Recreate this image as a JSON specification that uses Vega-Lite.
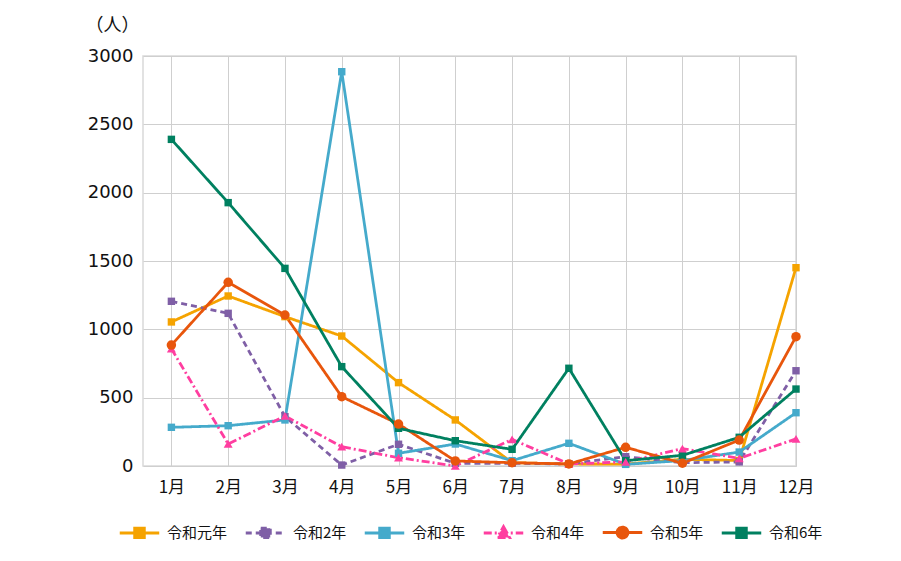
{
  "$schema": "https://vega.github.io/schema/vega-lite/v6.json",
  "width": 653,
  "height": 410,
  "autosize": {"type": "none"},
  "padding": {"left": 143, "top": 56, "right": 105, "bottom": 95},
  "background": "white",
  "config": {
    "font": "Noto Sans CJK JP",
    "view": {"stroke": "#d9d9d9", "strokeWidth": 1.5},
    "axis": {"gridColor": "#cfcfcf", "gridWidth": 1, "domain": false, "ticks": false, "labelColor": "#111"}
  },
  "data": {
    "values": [
      {"year": "令和元年", "month": 1, "value": 1054},
      {"year": "令和元年", "month": 2, "value": 1244},
      {"year": "令和元年", "month": 3, "value": 1093},
      {"year": "令和元年", "month": 4, "value": 951},
      {"year": "令和元年", "month": 5, "value": 610},
      {"year": "令和元年", "month": 6, "value": 337},
      {"year": "令和元年", "month": 7, "value": 24},
      {"year": "令和元年", "month": 8, "value": 15},
      {"year": "令和元年", "month": 9, "value": 14},
      {"year": "令和元年", "month": 10, "value": 49},
      {"year": "令和元年", "month": 11, "value": 40},
      {"year": "令和元年", "month": 12, "value": 1451},
      {"year": "令和2年", "month": 1, "value": 1205},
      {"year": "令和2年", "month": 2, "value": 1117},
      {"year": "令和2年", "month": 3, "value": 361},
      {"year": "令和2年", "month": 4, "value": 7},
      {"year": "令和2年", "month": 5, "value": 159},
      {"year": "令和2年", "month": 6, "value": 20},
      {"year": "令和2年", "month": 7, "value": 20},
      {"year": "令和2年", "month": 8, "value": 15},
      {"year": "令和2年", "month": 9, "value": 68},
      {"year": "令和2年", "month": 10, "value": 24},
      {"year": "令和2年", "month": 11, "value": 30},
      {"year": "令和2年", "month": 12, "value": 697},
      {"year": "令和3年", "month": 1, "value": 283},
      {"year": "令和3年", "month": 2, "value": 295},
      {"year": "令和3年", "month": 3, "value": 337},
      {"year": "令和3年", "month": 4, "value": 2885},
      {"year": "令和3年", "month": 5, "value": 93},
      {"year": "令和3年", "month": 6, "value": 161},
      {"year": "令和3年", "month": 7, "value": 39},
      {"year": "令和3年", "month": 8, "value": 166},
      {"year": "令和3年", "month": 9, "value": 12},
      {"year": "令和3年", "month": 10, "value": 40},
      {"year": "令和3年", "month": 11, "value": 102},
      {"year": "令和3年", "month": 12, "value": 390},
      {"year": "令和4年", "month": 1, "value": 858},
      {"year": "令和4年", "month": 2, "value": 161},
      {"year": "令和4年", "month": 3, "value": 366},
      {"year": "令和4年", "month": 4, "value": 141},
      {"year": "令和4年", "month": 5, "value": 61},
      {"year": "令和4年", "month": 6, "value": 0},
      {"year": "令和4年", "month": 7, "value": 195},
      {"year": "令和4年", "month": 8, "value": 15},
      {"year": "令和4年", "month": 9, "value": 30},
      {"year": "令和4年", "month": 10, "value": 127},
      {"year": "令和4年", "month": 11, "value": 56},
      {"year": "令和4年", "month": 12, "value": 198},
      {"year": "令和5年", "month": 1, "value": 885},
      {"year": "令和5年", "month": 2, "value": 1344},
      {"year": "令和5年", "month": 3, "value": 1105},
      {"year": "令和5年", "month": 4, "value": 507},
      {"year": "令和5年", "month": 5, "value": 307},
      {"year": "令和5年", "month": 6, "value": 37},
      {"year": "令和5年", "month": 7, "value": 24},
      {"year": "令和5年", "month": 8, "value": 15},
      {"year": "令和5年", "month": 9, "value": 137},
      {"year": "令和5年", "month": 10, "value": 20},
      {"year": "令和5年", "month": 11, "value": 190},
      {"year": "令和5年", "month": 12, "value": 946},
      {"year": "令和6年", "month": 1, "value": 2390},
      {"year": "令和6年", "month": 2, "value": 1927},
      {"year": "令和6年", "month": 3, "value": 1446},
      {"year": "令和6年", "month": 4, "value": 727},
      {"year": "令和6年", "month": 5, "value": 276},
      {"year": "令和6年", "month": 6, "value": 185},
      {"year": "令和6年", "month": 7, "value": 122},
      {"year": "令和6年", "month": 8, "value": 715},
      {"year": "令和6年", "month": 9, "value": 39},
      {"year": "令和6年", "month": 10, "value": 78},
      {"year": "令和6年", "month": 11, "value": 210},
      {"year": "令和6年", "month": 12, "value": 563}
    ]
  },
  "encoding": {
    "x": {
      "field": "month", "type": "quantitative",
      "scale": {"domain": [0.5, 12], "nice": false, "zero": false},
      "axis": {"title": null, "values": [1,2,3,4,5,6,7,8,9,10,11,12], "labelExpr": "datum.value + '月'", "labelFontSize": 17, "labelPadding": 13, "labelFlush": false, "labelOverlap": false}
    },
    "y": {
      "field": "value", "type": "quantitative",
      "scale": {"domain": [0, 3000], "nice": false},
      "axis": {"title": "（人）", "titleAngle": 0, "titleX": -31, "titleY": -31, "titleAlign": "center", "titleBaseline": "middle", "titleFontSize": 18, "titleFontWeight": "normal", "titleColor": "#111", "values": [0, 500, 1000, 1500, 2000, 2500, 3000], "format": "d", "labelFont": "DejaVu Sans", "labelFontSize": 18, "labelPadding": 10}
    },
    "color": {
      "field": "year", "type": "nominal",
      "scale": {
        "domain": ["令和元年", "令和2年", "令和3年", "令和4年", "令和5年", "令和6年"],
        "range": ["#f5a300", "#7f5fa6", "#45aacb", "#ff3ea0", "#e8560c", "#008060"]
      },
      "legend": {
        "title": null, "orient": "none", "direction": "horizontal", "columns": 6,
        "legendX": -25, "legendY": 455, "labelFontSize": 15, "labelColor": "#111", "labelOffset": 6,
        "symbolSize": 1560, "symbolStrokeWidth": 3, "symbolOpacity": 1, "columnPadding": 11
      }
    }
  },
  "layer": [
    {
      "mark": {"type": "line", "strokeWidth": 2.8},
      "encoding": {
        "strokeDash": {
          "field": "year", "type": "nominal",
          "scale": {
            "domain": ["令和元年", "令和2年", "令和3年", "令和4年", "令和5年", "令和6年"],
            "range": [[1, 0], [6, 4], [1, 0], [8, 3, 2, 3], [1, 0], [1, 0]]
          },
          "legend": null
        }
      }
    },
    {
      "transform": [{"filter": {"field": "year", "oneOf": ["令和元年", "令和2年", "令和3年", "令和6年"]}}],
      "mark": {"type": "point", "shape": "square", "filled": true, "opacity": 1, "size": 55}
    },
    {
      "transform": [{"filter": {"field": "year", "equal": "令和4年"}}],
      "mark": {"type": "point", "shape": "triangle-up", "filled": true, "opacity": 1, "size": 80}
    },
    {
      "transform": [{"filter": {"field": "year", "equal": "令和5年"}}],
      "mark": {"type": "point", "shape": "circle", "filled": true, "opacity": 1, "size": 90}
    },
    {
      "mark": {"type": "point", "filled": true, "opacity": 0, "size": 1},
      "encoding": {
        "shape": {
          "field": "year", "type": "nominal",
          "scale": {
            "domain": ["令和元年", "令和2年", "令和3年", "令和4年", "令和5年", "令和6年"],
            "range": [
              "M-1,0H1M-0.24,-0.24H0.24V0.24H-0.24Z",
              "M-1,0H1M-0.24,-0.24H0.24V0.24H-0.24Z",
              "M-1,0H1M-0.24,-0.24H0.24V0.24H-0.24Z",
              "M-1,0H1M0,-0.32L0.3,0.22L-0.3,0.22Z",
              "M-1,0H1M-0.27,0A0.27,0.27,0,1,0,0.27,0A0.27,0.27,0,1,0,-0.27,0Z",
              "M-1,0H1M-0.24,-0.24H0.24V0.24H-0.24Z"
            ]
          },
          "legend": null
        }
      }
    }
  ]
}
